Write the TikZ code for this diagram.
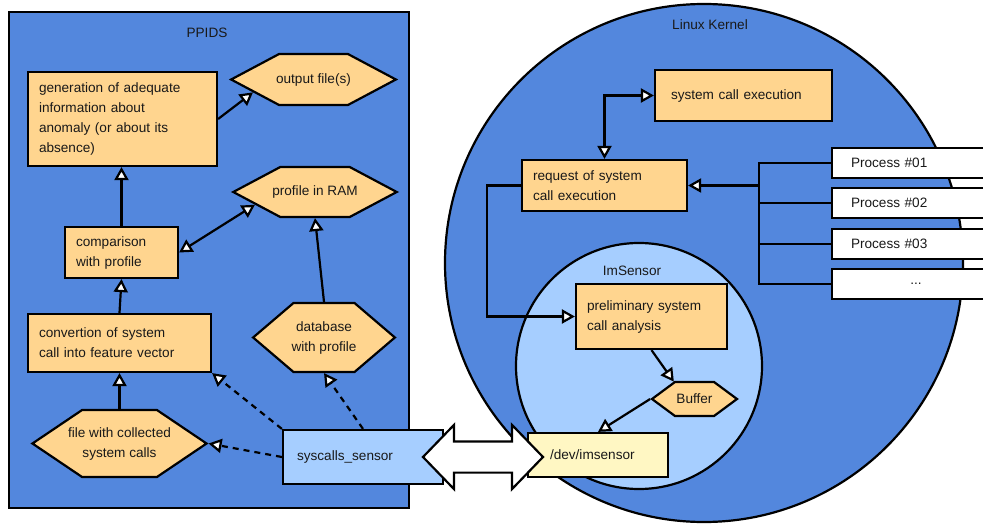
\documentclass[tikz,border=0pt]{standalone}
\usepackage{fontspec}
\setmainfont{Liberation Sans}
\usetikzlibrary{arrows.meta,shapes.symbols,shapes.arrows}

\definecolor{ppidsblau}{RGB}{83,135,221}
\definecolor{orangefuell}{RGB}{255,213,143}
\definecolor{hellblau}{RGB}{166,206,255}
\definecolor{hellgelb}{RGB}{255,247,195}
\definecolor{schrift}{RGB}{25,25,25}

\begin{document}
\begin{tikzpicture}[x=1pt,y=-1pt,font=\fontsize{13.6pt}{20pt}\selectfont]
	% Einstellungen für Kästchen, Sechsecke und Pfeile
	\tikzset{
		kasten/.style={
			draw=black, % schwarze Umrandung
			line width=2.2pt,
			fill=orangefuell, % orange Füllung
			text=schrift,
			align=left, % Text linksbündig
			inner xsep=11pt, inner ysep=0pt
		},
		sechseck/.style={
			signal, signal to=east and west, % Spitzen links und rechts
			draw=black, line width=2.2pt,
			fill=orangefuell, text=schrift,
			align=center, inner sep=0pt
		},
		prozess/.style={kasten, fill=white, inner xsep=19pt, text width=130pt, minimum height=30pt},
		titel/.style={text=schrift, inner sep=0pt},
		linie/.style={line width=2.2pt},
		pfeil/.style={linie, -{Triangle[fill=white,length=13pt,width=14pt]}},
		doppelpfeil/.style={linie, {Triangle[fill=white,length=13pt,width=14pt]}-{Triangle[fill=white,length=13pt,width=14pt]}},
		gestrichelt/.style={pfeil, dash pattern=on 6pt off 5pt}
	}

	% Bildgröße festlegen
	\useasboundingbox (0,0) rectangle (983,524);

	% Hintergründe
	\draw[linie, fill=ppidsblau] (9,12) rectangle (409,508); % PPIDS
	\node[circle, draw=black, linie, fill=ppidsblau, minimum size=518pt] (kernel) at (704,263) {};
	\node[circle, draw=black, linie, fill=hellblau, minimum size=246pt] (imsensor) at (639,366) {};

	\node[titel] (ppidstitel) at (207,33) {PPIDS};
	\node[titel] (kerneltitel) at (710,25) {Linux Kernel};
	\node[titel] (imsensortitel) at (632,271) {ImSensor};

	% PPIDS
	\node[kasten, text width=167pt, minimum height=94pt] (gen) at (122.5,119)
		{generation of adequate\\information about\\anomaly (or about its\\absence)};
	\node[sechseck, inner xsep=-3pt, minimum height=51pt, signal pointer angle=56] (output) at (313.5,79.5) {output file(s)};
	\node[sechseck, inner xsep=-8pt, minimum height=50pt, signal pointer angle=56] (ram) at (315,192) {profile in RAM};
	\node[kasten, text width=91pt, minimum height=51pt] (compare) at (121.5,252.5) {comparison\\with profile};
	\node[kasten, text width=161pt, minimum height=58pt] (convert) at (119.5,343) {convertion of system\\call into feature vector};
	\node[sechseck, inner xsep=-2pt, minimum height=69pt, signal pointer angle=81] (db) at (324,337.5) {database\\with profile};
	\node[sechseck, inner xsep=-14pt, minimum height=67pt, signal pointer angle=68] (file) at (119.5,443.5) {file with collected\\system calls};
	\node[kasten, fill=hellblau, inner xsep=14pt, text width=132pt, minimum height=54pt] (sensor) at (363,457) {syscalls\_sensor};

	% Kernel
	\node[kasten, inner xsep=16pt, text width=145pt, minimum height=51pt] (sysexec) at (743.5,95.5) {system call execution};
	\node[kasten, text width=143pt, minimum height=51pt] (request) at (604.5,185.5) {request of system\\call execution};
	\node[kasten, text width=129pt, minimum height=65pt] (prelim) at (651.5,316.5) {preliminary system\\call analysis};
	\node[sechseck, minimum width=85pt, minimum height=34pt, signal pointer angle=73] (buffer) at (694.5,399) {Buffer};
	\node[kasten, fill=hellgelb, inner xsep=22pt, text width=96pt, minimum height=44pt] (dev) at (598,455) {/dev/imsensor};

	% Prozesse
	\node[prozess] (p1) at (916,163) {Process \#01};
	\node[prozess] (p2) at (916,203) {Process \#02};
	\node[prozess] (p3) at (916,244) {Process \#03};
	\node[prozess, align=center] (p4) at (916,284) {...};
	\coordinate (bus) at (759,185.5);

	% Pfeile im PPIDS
	\draw[pfeil] (compare.north) -- (compare.north |- gen.south);
	\draw[pfeil] (gen.east) -- (output.192);
	\draw[doppelpfeil] (compare.east) -- (ram.192);
	\draw[pfeil] (db.north) -- (ram.south);
	\draw[pfeil] (convert.north) -- (compare.south);
	\draw[pfeil] (file.north) -- (convert.south);
	\draw[gestrichelt] (sensor.north west) -- (convert.south east);
	\draw[gestrichelt] (sensor.north) -- (db.south);
	\draw[gestrichelt] (sensor.west) -- (file.east);

	% Pfeile im Kernel
	\draw[doppelpfeil] (request.north) |- (sysexec.west);
	\draw[linie] (p1.west) -- (p1.west -| bus) -- (p4.west -| bus) -- (p4.west);
	\draw[linie] (p2.west) -- (p2.west -| bus);
	\draw[linie] (p3.west) -- (p3.west -| bus);
	\draw[pfeil] (bus) -- (request.east);
	\draw[pfeil] (request.west) -- ++(-34,0) |- (prelim.west);
	\draw[pfeil] (prelim.south) -- (buffer.140);
	\draw[pfeil] (buffer.west) -- (dev.north);

	% breiter Doppelpfeil zwischen syscalls_sensor und /dev/imsensor
	\node[double arrow, draw=black, linie, fill=white, minimum height=120pt, minimum width=62pt,
		double arrow head extend=16.5pt, double arrow tip angle=92, inner xsep=0pt, inner ysep=14.5pt] (kanal) at (483,457) {};
\end{tikzpicture}
\end{document}
